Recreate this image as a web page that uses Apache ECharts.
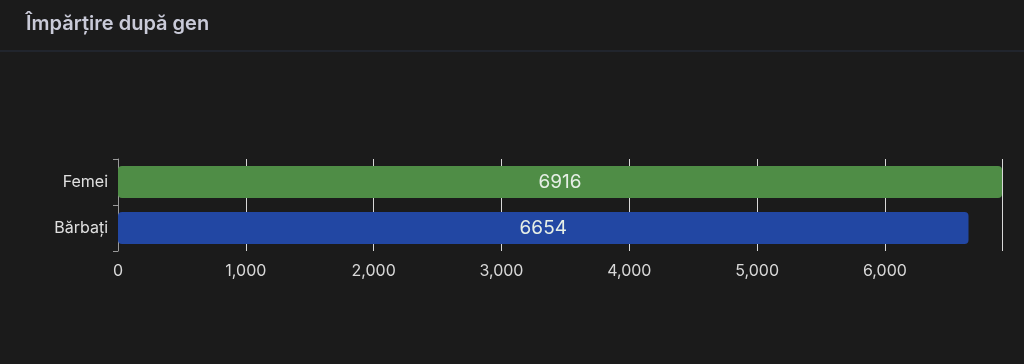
<!DOCTYPE html>
<html><head><meta charset="utf-8">
<script src="https://cdn.jsdelivr.net/npm/echarts@6/dist/echarts.min.js"></script>
<style>html,body{margin:0;padding:0;background:#1b1b1b;}#c{width:1024px;height:364px;}</style>
</head><body><div id="c"></div>
<script>
const title = 'Împărțire după gen';
const categories = ['Bărbați', 'Femei'];
const values = [6654, 6916];
const barColors = ['#2247a3', '#4f8d46'];

const chart = echarts.init(document.getElementById('c'), null, {renderer: 'canvas'});
chart.setOption({
  backgroundColor: '#1b1b1b',
  animation: false,
  title: {
    text: title, left: 21, top: 9,
    textStyle: {color: '#c9cad8', fontSize: 20, fontWeight: 600, fontFamily: 'Inter'}
  },
  graphic: [{
    type: 'rect', left: 0, top: 50, shape: {width: 1024, height: 2},
    style: {fill: '#21252d'}
  }],
  grid: {left: 118, right: 22, top: 159, bottom: 113, containLabel: false},
  xAxis: {
    type: 'value', min: 0, max: 'dataMax', interval: 1000,
    axisLine: {show: false}, axisTick: {show: false},
    splitLine: {show: true, lineStyle: {color: '#d8d8d8', width: 1}},
    axisLabel: {color: '#d8d8d8', fontSize: 16, fontFamily: 'Inter', margin: 12, showMaxLabel: false}
  },
  yAxis: {
    type: 'category', data: categories,
    axisLine: {show: true, lineStyle: {color: '#9a9a9a'}},
    axisTick: {show: true, length: 5, lineStyle: {color: '#9a9a9a'}},
    axisLabel: {color: '#e0e0e0', fontSize: 16, fontFamily: 'Inter', margin: 10}
  },
  series: [{
    type: 'bar', barWidth: '70%',
    data: values.map((v, i) => ({value: v, itemStyle: {color: barColors[i]}})),
    itemStyle: {borderRadius: 4},
    label: {show: true, position: 'inside', color: '#e6efe6', fontSize: 19, fontFamily: 'Inter'}
  }]
});
</script></body></html>
